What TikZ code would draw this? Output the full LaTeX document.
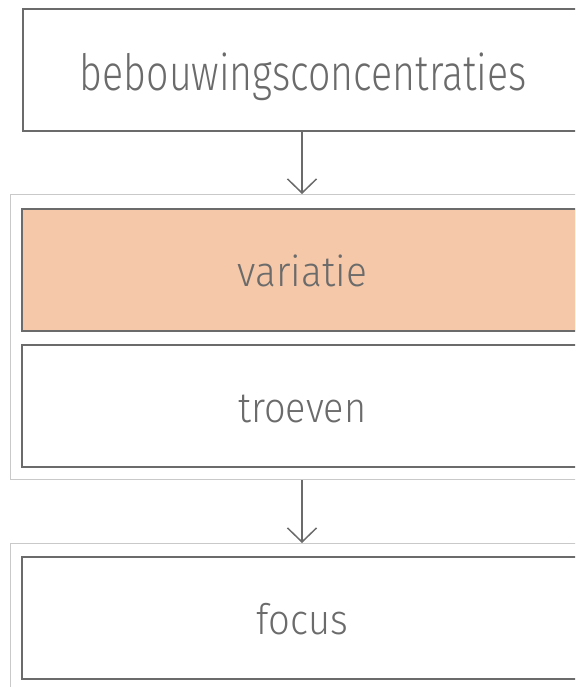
\documentclass[tikz,border=0pt]{standalone}
\usepackage{fontspec}
\setmainfont{Fira Sans Light}
\usetikzlibrary{arrows.meta}
\definecolor{boxgray}{HTML}{6B6B6B}
\definecolor{framegray}{HTML}{C9C9C9}
\definecolor{peach}{HTML}{F4C8A8}
\tikzset{
  x=1pt,y=-1pt,
  frame/.style={draw=framegray,line width=1.3pt,rectangle,inner sep=0pt,anchor=north west},
  box/.style={draw=boxgray,line width=1.6pt,rectangle,inner sep=0pt,anchor=north west,
     minimum width=561pt,minimum height=122pt,text=boxgray,align=center},
  conn/.style={draw=boxgray,line width=1.5pt,-{Straight Barb[length=14pt,width=29pt,line width=1.5pt]}},
}
\begin{document}
\begin{tikzpicture}
\useasboundingbox (0,0) rectangle (575,687);
\clip (0,0) rectangle (575,687);
\node[frame,minimum width=584pt,minimum height=285pt] (f1) at (10,194) {};
\node[frame,minimum width=584pt,minimum height=150pt] (f2) at (10,543) {};
\node[box,font=\fontsize{50pt}{50pt}\selectfont,text height=42pt,text depth=0pt] (top) at (22,8) {\resizebox{447pt}{\height}{bebouwingsconcentraties}};
\node[box,fill=peach,font=\fontsize{42pt}{42pt}\selectfont,text height=33pt,text depth=0pt] (var) at (21,208) {\resizebox{129pt}{\height}{variatie}};
\node[box,font=\fontsize{42pt}{42pt}\selectfont,text height=34pt,text depth=0pt] (tro) at (21,344) {\resizebox{128pt}{\height}{troeven}};
\node[box,font=\fontsize{42pt}{42pt}\selectfont,text height=34pt,text depth=0pt] (foc) at (21,556) {\resizebox{91pt}{\height}{focus}};
\coordinate (a1s) at (302,130);
\coordinate (a1e) at (302,193);
\coordinate (a2s) at (302,480);
\coordinate (a2e) at (302,542);
\draw[conn] (top.south -| a1s) -- (f1.north -| a1e);
\draw[conn] (f1.south -| a2s) -- (f2.north -| a2e);
\end{tikzpicture}
\end{document}
